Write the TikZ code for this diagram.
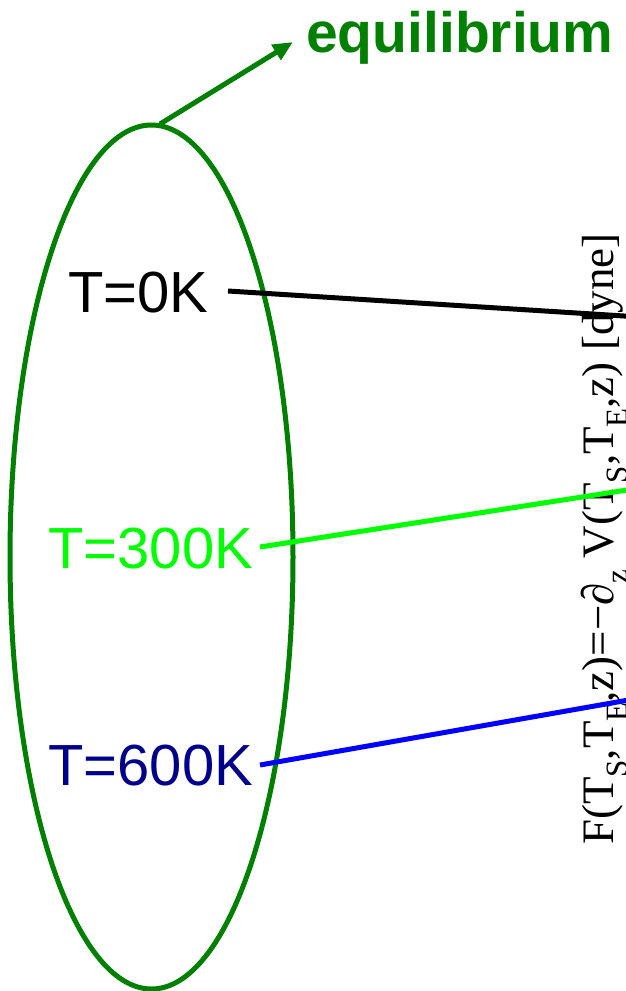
\documentclass[tikz,border=0pt]{standalone}
\usepackage{fontspec}
\setmainfont{Liberation Serif}
\newfontfamily\arialf{Liberation Sans}
\usetikzlibrary{shapes.geometric,arrows.meta}
\definecolor{eqgreen}{HTML}{008000}
\definecolor{limeg}{HTML}{00FF00}
\definecolor{navyb}{HTML}{00008B}
\definecolor{pureblue}{HTML}{0000FF}
\newcommand{\mysub}[1]{\raisebox{-0.32em}{\fontsize{31}{31}\selectfont #1}}
\begin{document}
\begin{tikzpicture}[x=1pt,y=-1pt,
  tlabel/.style={anchor=base west,inner sep=0pt,font=\arialf\fontsize{58}{58}\selectfont},
  conn/.style={line width=5pt}]
\useasboundingbox (0,0) rectangle (626,991);
\clip (0,0) rectangle (626,991);
\node[ellipse,draw=eqgreen,line width=5pt,minimum width=283pt,minimum height=864pt,inner sep=0pt] (ell) at (151.5,557) {};
\node[anchor=base west,inner sep=0pt,text=eqgreen,font=\arialf\bfseries\fontsize{57}{57}\selectfont] (eqlab) at (306,52) {equilibrium};
\coordinate (atail) at (160,124);
\coordinate (ahead) at (293,42);
\draw[eqgreen,line width=5pt,-{Triangle[length=20pt,width=17pt]}] (atail) -- (ahead);
\node[tlabel,text=black] (t0) at (68,312) {T=0K};
\node[tlabel,text=limeg] (t300) at (48,568) {T=300K};
\node[tlabel,text=navyb] (t600) at (48,785) {T=600K};
\coordinate (s0) at (228,291);
\coordinate (e0) at (640,317);
\coordinate (s300) at (260,547);
\coordinate (e300) at (640,488);
\coordinate (s600) at (260,765);
\coordinate (e600) at (640,698);
\node[anchor=base west,rotate=90,inner sep=0pt,font=\fontsize{45}{45}\selectfont] (flab) at (613,845)
  {F(T\mysub{S},T\mysub{E},z)=−∂\mysub{z} V(T\mysub{S},T\mysub{E},z) [dyne]};
\draw[conn,black] (s0) -- (e0);
\draw[conn,limeg] (s300) -- (e300);
\draw[conn,pureblue] (s600) -- (e600);
\end{tikzpicture}
\end{document}
